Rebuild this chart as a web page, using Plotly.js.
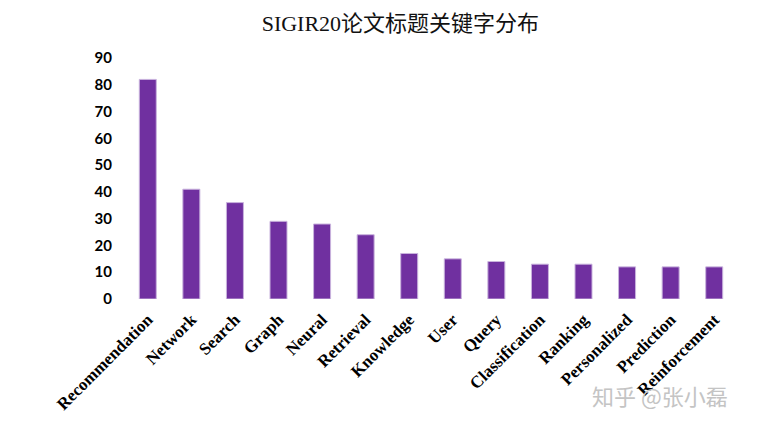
<!DOCTYPE html>
<html>
<head>
<meta charset="utf-8">
<script src="https://cdn.plot.ly/plotly-3.0.1.min.js"></script>
<style>html,body{margin:0;padding:0;background:#fff;}#chart{width:767px;height:421px;}</style>
</head>
<body>
<div id="chart"></div>
<script>
const categories = ["Recommendation","Network","Search","Graph","Neural","Retrieval","Knowledge","User","Query","Classification","Ranking","Personalized","Prediction","Reinforcement"];
const counts = [82,41,36,29,28,24,17,15,14,13,13,12,12,12];
const yTicks = [0,10,20,30,40,50,60,70,80,90];
const titleText = "SIGIR20论文标题关键字分布";
const watermark = "知乎 @张小磊";

const trace = {
  type: "bar",
  x: categories,
  y: counts,
  width: 0.39,
  marker: {color: "#7030A0", line: {color: "#c9b3dd", width: 1}},
  hoverinfo: "x+y"
};

const layout = {
  width: 767, height: 421,
  margin: {l: 126, r: 31, t: 58, b: 122},
  paper_bgcolor: "#fff", plot_bgcolor: "#fff",
  showlegend: false,
  title: {text: titleText, x: 0.522, xanchor: "center", y: 0.945, yanchor: "middle",
          font: {family: "Liberation Serif, Noto Sans CJK SC, serif", size: 22, color: "#111"}},
  xaxis: {
    type: "category",
    tickangle: -45,
    showgrid: false, showline: false, zeroline: false,
    ticks: "outside", ticklen: 3, tickcolor: "rgba(0,0,0,0)",
    tickfont: {family: "Liberation Serif, serif", size: 17, color: "#000", weight: "bold"}
  },
  yaxis: {
    range: [0, 90],
    tickvals: yTicks,
    ticktext: yTicks.map(String),
    showgrid: false, showline: false, zeroline: false,
    ticks: "outside", ticklen: 10, tickcolor: "rgba(0,0,0,0)",
    tickfont: {family: "Lato, Noto Sans, sans-serif", size: 15, color: "#000", weight: "bold"}
  },
  annotations: [{
    text: watermark, xref: "paper", yref: "paper", x: 0.875, y: -0.40,
    xanchor: "center", yanchor: "middle", showarrow: false,
    font: {family: "Noto Sans CJK SC, sans-serif", size: 22, color: "#c4c4c4"}
  }]
};

Plotly.newPlot("chart", [trace], layout, {displayModeBar: false, staticPlot: true});
</script>
</body>
</html>
